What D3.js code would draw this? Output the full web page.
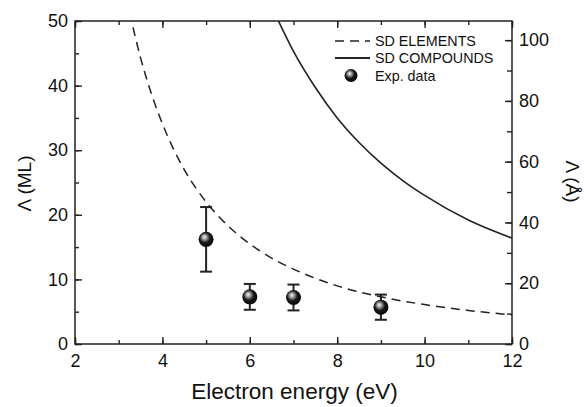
<!DOCTYPE html>
<html lang="en">

<head>
  <meta charset="UTF-8">
  <script src="https://d3js.org/d3.v7.min.js"></script>
  <style>
    body {
      margin: 0;
      padding: 0;
      background: #fff;
      overflow: hidden;
    }

    text {
      font-family: "Liberation Sans", Arial, sans-serif;
      fill: #111;
    }
  </style>
</head>

<body>
  <script>
    // Experimental points (energy in eV, attenuation length in ML, error in ML)
    const expEnergy = [5, 6, 7, 9];
    const expValue = [16.2, 7.3, 7.2, 5.7];
    const expError = [5.0, 2.0, 2.0, 1.95];

    // Seah-Dench curve for elements (ML)
    const sdElemEnergy = [3.25, 3.5, 3.75, 4, 4.5, 5, 5.5, 6, 6.5, 7, 8, 9, 10, 11, 12];
    const sdElemValue = [51.3, 44.3, 38.7, 34.1, 27.0, 22.0, 18.3, 15.5, 13.3, 11.6, 9.0, 7.3, 6.1, 5.2, 4.5];

    // Seah-Dench curve for compounds (ML)
    const sdCompEnergy = [6.6, 7, 7.5, 8, 8.5, 9, 9.5, 10, 11, 12];
    const sdCompValue = [50.8, 45.3, 39.7, 35.0, 31.2, 28.0, 25.3, 23.0, 19.2, 16.4];

    // Tick values
    const xTicks = [2, 4, 6, 8, 10, 12];
    const yLeftTicks = [0, 10, 20, 30, 40, 50];
    const yRightTicks = [0, 20, 40, 60, 80, 100];

    const legendItems = ['SD ELEMENTS', 'SD COMPOUNDS', 'Exp. data'];

    const width = 584, height = 407;
    const margin = { left: 75, right: 72, top: 21, bottom: 63 };
    const plotW = width - margin.left - margin.right;
    const plotH = height - margin.top - margin.bottom;

    const svg = d3.select('body').append('svg')
      .attr('width', width)
      .attr('height', height);

    const defs = svg.append('defs');

    // shiny ball gradient
    const grad = defs.append('radialGradient')
      .attr('id', 'ball')
      .attr('cx', '0.45').attr('cy', '0.42')
      .attr('fx', '0.38').attr('fy', '0.34')
      .attr('r', '0.62');
    grad.append('stop').attr('offset', '0%').attr('stop-color', '#f4f4f4');
    grad.append('stop').attr('offset', '22%').attr('stop-color', '#aaa');
    grad.append('stop').attr('offset', '55%').attr('stop-color', '#1a1a1a');
    grad.append('stop').attr('offset', '100%').attr('stop-color', '#000');

    defs.append('clipPath').attr('id', 'plotclip')
      .append('rect')
      .attr('width', plotW)
      .attr('height', plotH);

    const x = d3.scaleLinear().domain([2, 12]).range([0, plotW]);
    const y = d3.scaleLinear().domain([0, 50]).range([plotH, 0]);
    // right axis in Angstrom (1 ML ~ 2.126 A)
    const yR = d3.scaleLinear().domain([0, 106.3]).range([plotH, 0]);

    const g = svg.append('g')
      .attr('transform', `translate(${margin.left},${margin.top})`);

    // curves
    const line = d3.line()
      .x(d => x(d[0]))
      .y(d => y(d[1]))
      .curve(d3.curveMonotoneX);

    const curves = g.append('g').attr('clip-path', 'url(#plotclip)');

    curves.append('path')
      .datum(d3.zip(sdElemEnergy, sdElemValue))
      .attr('d', line)
      .attr('fill', 'none')
      .attr('stroke', '#222')
      .attr('stroke-width', 1.5)
      .attr('stroke-dasharray', '9,6');

    curves.append('path')
      .datum(d3.zip(sdCompEnergy, sdCompValue))
      .attr('d', line)
      .attr('fill', 'none')
      .attr('stroke', '#222')
      .attr('stroke-width', 1.6);

    // axes (ticks pointing inward)
    function styleAxis(sel) {
      sel.select('.domain').remove();
      sel.selectAll('.tick line').attr('stroke', '#222').attr('stroke-width', 1.4);
      sel.selectAll('.tick text').style('font-size', '18px').attr('fill', '#111');
    }

    // bottom
    g.append('g')
      .attr('transform', `translate(0,${plotH})`)
      .call(d3.axisBottom(x).tickValues(d3.range(2, 12.5, 1)).tickSize(-4).tickFormat(''))
      .call(styleAxis);
    g.append('g')
      .attr('transform', `translate(0,${plotH})`)
      .call(d3.axisBottom(x).tickValues(xTicks).tickSize(-7).tickPadding(10).tickFormat(d3.format('d')))
      .call(styleAxis)
      .selectAll('.tick text').attr('dy', '0.71em').attr('y', 10);

    // top
    g.append('g')
      .call(d3.axisTop(x).tickValues(d3.range(2, 12.5, 1)).tickSize(-4).tickFormat(''))
      .call(styleAxis);
    g.append('g')
      .call(d3.axisTop(x).tickValues(xTicks).tickSize(-7).tickFormat(''))
      .call(styleAxis);

    // left
    g.append('g')
      .call(d3.axisLeft(y).tickValues(d3.range(0, 51, 5)).tickSize(-4).tickFormat(''))
      .call(styleAxis);
    g.append('g')
      .call(d3.axisLeft(y).tickValues(yLeftTicks).tickSize(-7).tickPadding(7).tickFormat(d3.format('d')))
      .call(styleAxis)
      .selectAll('.tick text').attr('x', -7);

    // right
    g.append('g')
      .attr('transform', `translate(${plotW},0)`)
      .call(d3.axisRight(yR).tickValues(d3.range(0, 106, 10)).tickSize(-5).tickFormat(''))
      .call(styleAxis);
    g.append('g')
      .attr('transform', `translate(${plotW},0)`)
      .call(d3.axisRight(yR).tickValues(yRightTicks).tickSize(-7).tickFormat(d3.format('d')))
      .call(styleAxis)
      .selectAll('.tick text').attr('x', 7);

    // frame
    g.append('rect')
      .attr('width', plotW)
      .attr('height', plotH)
      .attr('fill', 'none')
      .attr('stroke', '#222')
      .attr('stroke-width', 1.5);

    // error bars + balls
    const pts = g.append('g')
      .selectAll('g')
      .data(d3.range(expEnergy.length))
      .enter().append('g');

    pts.append('line')
      .attr('x1', i => x(expEnergy[i])).attr('x2', i => x(expEnergy[i]))
      .attr('y1', i => y(expValue[i] + expError[i]))
      .attr('y2', i => y(expValue[i] - expError[i]))
      .attr('stroke', '#222').attr('stroke-width', 2);

    [1, -1].forEach(s => {
      pts.append('line')
        .attr('x1', i => x(expEnergy[i]) - 6).attr('x2', i => x(expEnergy[i]) + 6)
        .attr('y1', i => y(expValue[i] + s * expError[i]))
        .attr('y2', i => y(expValue[i] + s * expError[i]))
        .attr('stroke', '#222').attr('stroke-width', 2);
    });

    pts.append('circle')
      .attr('cx', i => x(expEnergy[i]))
      .attr('cy', i => y(expValue[i]))
      .attr('r', 7.5)
      .attr('fill', 'url(#ball)');

    // axis titles
    svg.append('text')
      .attr('x', margin.left + plotW / 2 + 1)
      .attr('y', 399)
      .attr('text-anchor', 'middle')
      .style('font-size', '22.5px')
      .text('Electron energy (eV)');

    svg.append('text')
      .attr('transform', `translate(31,${margin.top + plotH / 2 + 1}) rotate(-90)`)
      .attr('text-anchor', 'middle')
      .style('font-size', '19px')
      .text('\u039B (ML)');

    svg.append('text')
      .attr('transform', `translate(566,${margin.top + plotH / 2 - 1}) rotate(90)`)
      .attr('text-anchor', 'middle')
      .style('font-size', '19px')
      .text('\u039B (\u00C5)');

    // legend
    const legend = svg.append('g').attr('transform', 'translate(335,0)');
    const rowY = [41, 58, 75.5];

    legend.append('line')
      .attr('x1', 0).attr('x2', 35).attr('y1', rowY[0]).attr('y2', rowY[0])
      .attr('stroke', '#222').attr('stroke-width', 1.5).attr('stroke-dasharray', '9,6');
    legend.append('line')
      .attr('x1', 0).attr('x2', 35).attr('y1', rowY[1]).attr('y2', rowY[1])
      .attr('stroke', '#222').attr('stroke-width', 1.8);
    legend.append('circle')
      .attr('cx', 16).attr('cy', rowY[2]).attr('r', 6.5)
      .attr('fill', 'url(#ball)');

    legend.selectAll('text.leg')
      .data(legendItems)
      .enter().append('text')
      .attr('class', 'leg')
      .attr('x', 40)
      .attr('y', (d, i) => rowY[i] + 5)
      .style('font-size', '14.3px')
      .text(d => d);
  </script>
</body>

</html>
